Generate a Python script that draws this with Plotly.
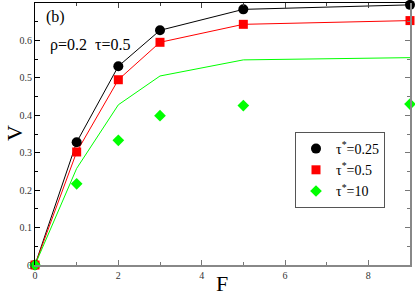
import plotly.graph_objects as go

F = [0, 1, 2, 3, 5, 9]
v_025 = [0.0, 0.328, 0.531, 0.627, 0.683, 0.695]
v_05 = [0.0, 0.302, 0.495, 0.595, 0.643, 0.653]
v_10_line = [0.0, 0.258, 0.428, 0.505, 0.548, 0.554]
v_10_pts = [0.0, 0.217, 0.333, 0.399, 0.426, 0.430]

labels = ["τ<sup>*</sup>=0.25", "τ<sup>*</sup>=0.5", "τ<sup>*</sup>=10"]

SERIF = "Liberation Serif, Times New Roman, serif"

L, R, T, B = 35, 5, 3, 30
W, H = 415, 295
PW, PH = W - L - R, H - T - B


def px(xp, yp):
    return (xp - L) / PW, (H - B - yp) / PH


fig = go.Figure()
fig.add_trace(go.Scatter(x=F, y=v_025, mode="lines", line=dict(color="black", width=1), showlegend=False, cliponaxis=False))
fig.add_trace(go.Scatter(x=F, y=v_05, mode="lines", line=dict(color="#ff0000", width=1), showlegend=False, cliponaxis=False))
fig.add_trace(go.Scatter(x=F, y=v_10_line, mode="lines", line=dict(color="#00ff00", width=1), showlegend=False, cliponaxis=False))
fig.add_trace(go.Scatter(x=F, y=v_025, mode="markers", name=labels[0], cliponaxis=False,
                         marker=dict(symbol="circle", size=10, color="black")))
fig.add_trace(go.Scatter(x=F, y=v_05, mode="markers", name=labels[1], cliponaxis=False,
                         marker=dict(symbol="square", size=9, color="#ff0000")))
fig.add_trace(go.Scatter(x=F, y=v_10_pts, mode="markers", name=labels[2], cliponaxis=False,
                         marker=dict(symbol="diamond", size=9, color="#00ff00")))
fig.add_trace(go.Scatter(x=[0], y=[0], xaxis="x2", yaxis="y2", mode="markers",
                         marker=dict(opacity=0), showlegend=False, hoverinfo="skip"))

bx, by = px(55, 17)
rx, ry = px(90, 45)
vx, vy = px(14, 133)
fx, fy = px(222, 283)
lx, ly = px(295, 132)

fig.update_layout(
    width=W, height=H,
    margin=dict(l=L, r=R, t=T, b=B, autoexpand=False),
    plot_bgcolor="white", paper_bgcolor="white",
    font=dict(family=SERIF, color="black"),
    xaxis=dict(range=[0, 9], tickvals=[0, 2, 4, 6, 8], ticks="inside", ticklen=5,
               tickcolor="#777", showline=True, linecolor="#888", linewidth=2,
               showgrid=False, zeroline=False, tickfont=dict(size=10, color="#333"),
               automargin=False,
               minor=dict(dtick=1, ticks="inside", ticklen=3, tickcolor="#777")),
    yaxis=dict(range=[0, 0.7], tickvals=[0, 0.1, 0.2, 0.3, 0.4, 0.5, 0.6],
               ticktext=["0", "0.1", "0.2", "0.3", "0.4", "0.5", "0.6"],
               ticks="inside", ticklen=5, tickcolor="black", showline=True,
               linecolor="black", linewidth=1, showgrid=False, zeroline=False,
               tickfont=dict(size=10, color="#333"), automargin=False,
               minor=dict(dtick=0.05, ticks="inside", ticklen=3, tickcolor="black")),
    xaxis2=dict(range=[0, 9], overlaying="x", side="top", tickvals=[0, 2, 4, 6, 8],
                showticklabels=False, ticks="inside", ticklen=5, tickcolor="#444",
                showline=True, linecolor="black", linewidth=1, showgrid=False, zeroline=False,
                automargin=False,
                minor=dict(dtick=1, ticks="inside", ticklen=3, tickcolor="#444")),
    yaxis2=dict(range=[0, 0.7], overlaying="y", side="right",
                tickvals=[0, 0.1, 0.2, 0.3, 0.4, 0.5, 0.6], showticklabels=False,
                ticks="inside", ticklen=5, tickcolor="#777", showline=True,
                linecolor="#888", linewidth=2, showgrid=False, zeroline=False,
                automargin=False,
                minor=dict(dtick=0.05, ticks="inside", ticklen=3, tickcolor="#777")),
    legend=dict(x=lx, y=ly, xanchor="left", yanchor="top",
                bordercolor="#555", borderwidth=1, bgcolor="white",
                font=dict(family=SERIF, size=14, color="black"),
                tracegroupgap=0, itemwidth=30),
    annotations=[
        dict(text="(b)", x=bx, y=by, xref="paper", yref="paper", showarrow=False,
             xanchor="center", yanchor="middle", font=dict(size=16, family=SERIF)),
        dict(text="ρ=0.2  τ=0.5", x=rx, y=ry, xref="paper", yref="paper",
             xanchor="center", yanchor="middle",
             showarrow=False, font=dict(size=16, family=SERIF)),
        dict(text="V", x=vx, y=vy, xref="paper", yref="paper", showarrow=False,
             xanchor="center", yanchor="middle",
             textangle=-90, font=dict(size=22, family=SERIF)),
        dict(text="F", x=fx, y=fy, xref="paper", yref="paper", showarrow=False,
             xanchor="center", yanchor="middle",
             font=dict(size=22, family=SERIF)),
    ],
)

fig.write_html("out.html", config={"displayModeBar": False},
               post_script="document.body.style.margin='0';")
